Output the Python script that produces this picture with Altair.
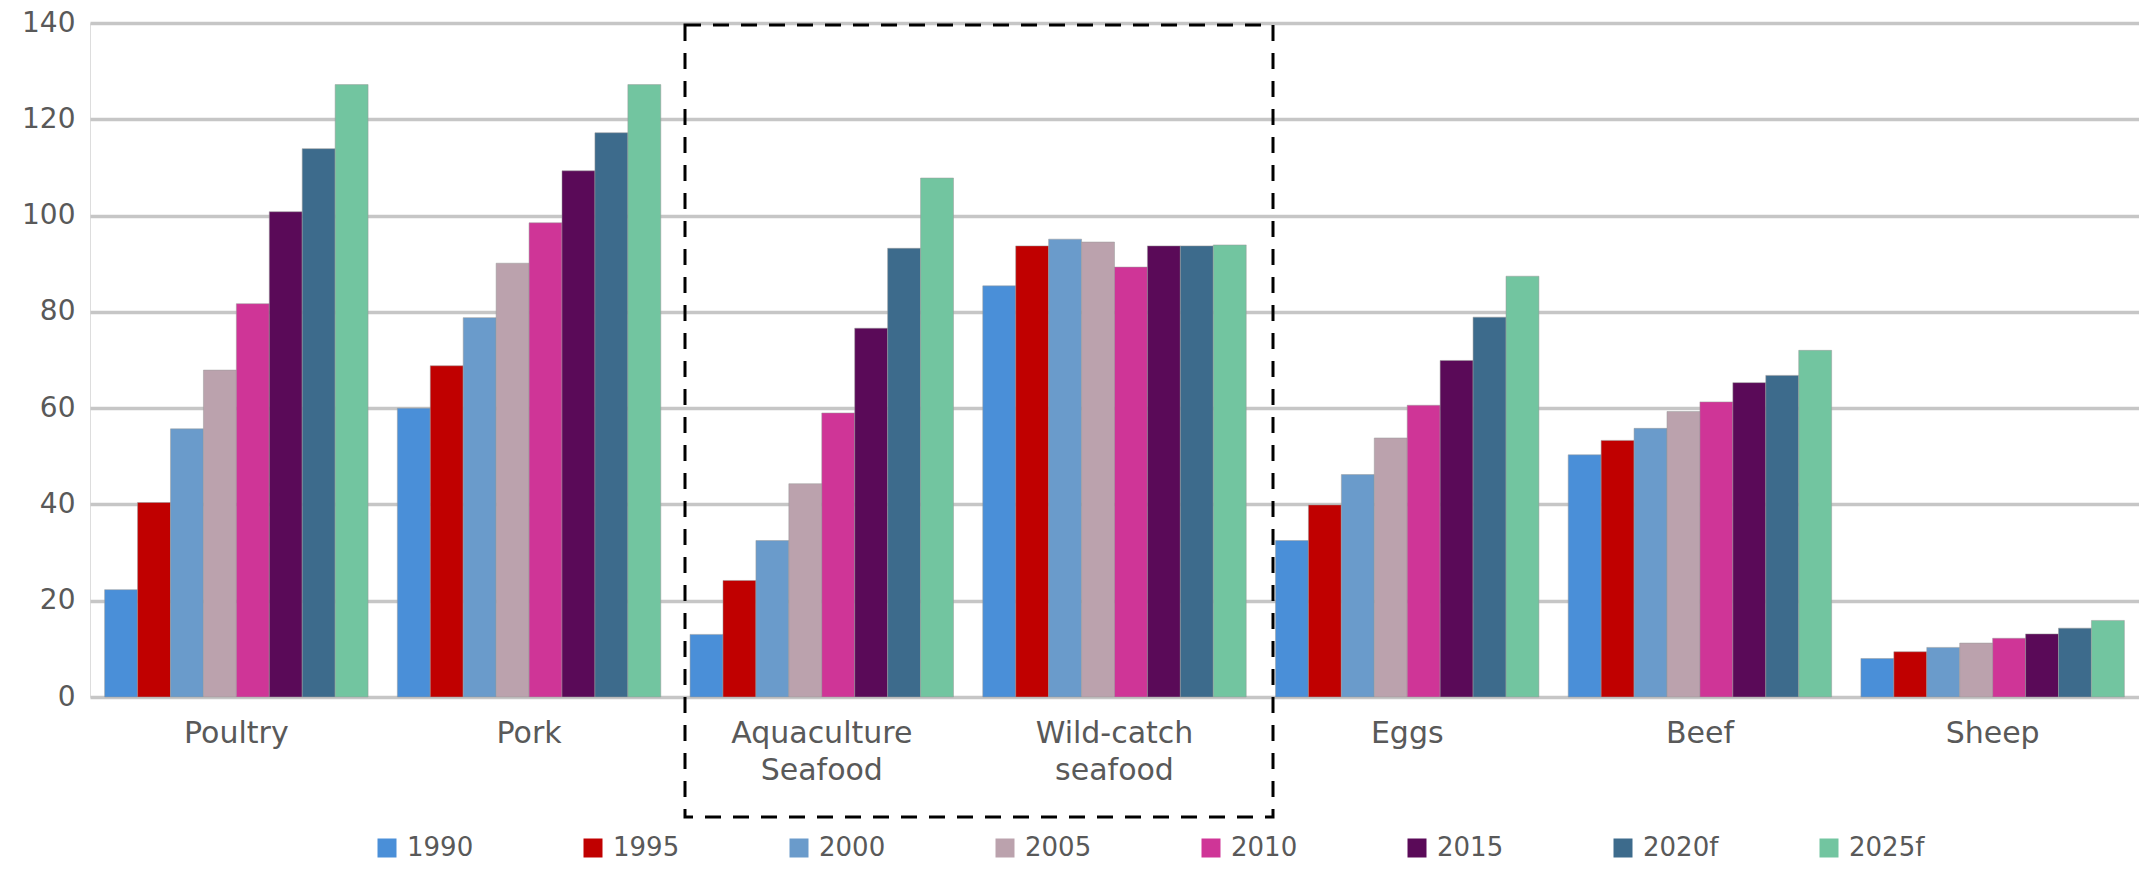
import altair as alt
import pandas as pd

categories = ["Poultry", "Pork", "Aquaculture Seafood", "Wild-catch seafood", "Eggs", "Beef", "Sheep"]
years = ["1990", "1995", "2000", "2005", "2010", "2015", "2020f", "2025f"]
colors = ["#4a8fd8", "#c00000", "#6a9bcb", "#bba2ad", "#cf3597", "#5a0a58", "#3d6b8c", "#72c5a0"]

poultry = [22.3, 40.4, 55.7, 67.9, 81.7, 100.8, 113.9, 127.2]
pork = [60.0, 68.8, 78.8, 90.1, 98.5, 109.3, 117.2, 127.2]
aquaculture = [13.0, 24.2, 32.5, 44.3, 59.0, 76.6, 93.2, 107.8]
wildcatch = [85.4, 93.7, 95.1, 94.5, 89.3, 93.7, 93.7, 93.9]
eggs = [32.5, 39.9, 46.2, 53.8, 60.6, 69.9, 78.9, 87.4]
beef = [50.3, 53.3, 55.8, 59.3, 61.3, 65.3, 66.8, 72.0]
sheep = [8.0, 9.4, 10.3, 11.2, 12.2, 13.1, 14.3, 15.9]

series = [poultry, pork, aquaculture, wildcatch, eggs, beef, sheep]
rows = []
for cat, vals in zip(categories, series):
    for yr, v in zip(years, vals):
        rows.append({"category": cat, "year": yr, "value": v})
df = pd.DataFrame(rows)

FONT = "DejaVu Sans"
GREY = "#595959"

bars = alt.Chart(df).mark_bar(stroke="#9a9a9a", strokeWidth=1, strokeOpacity=0.5).encode(
    x=alt.X("category:N", sort=categories,
            scale=alt.Scale(paddingInner=0.1, paddingOuter=0.05),
            axis=alt.Axis(title=None, labelAngle=0, domain=False, ticks=False,
                          labelFont=FONT, labelFontSize=30, labelColor=GREY,
                          labelPadding=21, labelBaseline="top", labelLineHeight=37,
                          labelLimit=0,
                          labelExpr="split(datum.label, ' ')")),
    xOffset=alt.XOffset("year:N", sort=years),
    y=alt.Y("value:Q", scale=alt.Scale(domain=[0, 140], nice=False),
            axis=alt.Axis(title=None, values=[0, 20, 40, 60, 80, 100, 120, 140],
                          domain=False, ticks=False, labelFont=FONT, labelFontSize=28,
                          labelColor=GREY, labelPadding=15,
                          gridColor="#c6c6c6", gridWidth=3.5)),
    color=alt.Color("year:N", sort=years,
                    scale=alt.Scale(domain=years, range=colors),
                    legend=alt.Legend(title=None, orient="none", direction="horizontal",
                                      legendX=284, legendY=812, columns=8,
                                      gridAlign="all", columnPadding=97,
                                      symbolType="square", symbolSize=361,
                                      symbolStrokeWidth=0, labelOffset=7,
                                      labelFont=FONT, labelFontSize=26,
                                      labelColor=GREY)),
)

box = alt.Chart(pd.DataFrame({"k": [0]})).mark_rect(
    fill=None, filled=False, stroke="black", strokeWidth=3,
    strokeDash=[16, 12], clip=False
).encode(
    x=alt.value(595), x2=alt.value(1183), y=alt.value(2), y2=alt.value(794)
)

chart = alt.layer(bars, box).properties(
    width=2049, height=674,
    padding={"left": 82, "top": 15, "right": 0, "bottom": 166},
    autosize=alt.AutoSizeParams(type="none"),
).configure_view(stroke=None).configure(background="white")

chart.save("out.html", embed_options={"renderer": "svg", "actions": False})
